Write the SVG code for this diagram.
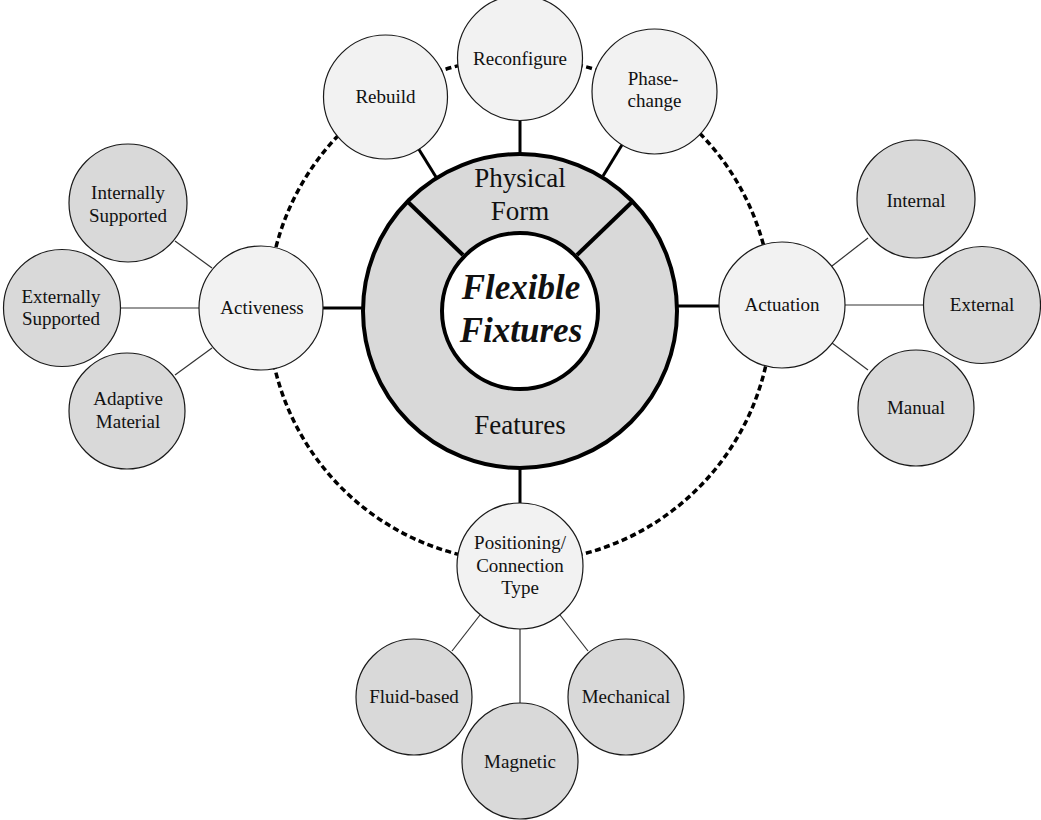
<svg xmlns="http://www.w3.org/2000/svg" width="1041" height="820" viewBox="0 0 1041 820">
<style>
  .lbl { font-size: 19px; }
  .big { font-size: 27px; }
  .title { font-size: 35px; font-weight: bold; font-style: italic; }
  .light { fill: #f2f2f2; stroke: #1a1a1a; stroke-width: 1.2; }
  .dark { fill: #d9d9d9; stroke: #1a1a1a; stroke-width: 1.2; }
  .thick { stroke: #000; stroke-width: 3; fill: none; }
  .thin { stroke: #333; stroke-width: 1.2; fill: none; }
  .dots { stroke: #000; stroke-width: 3.5; fill: none; stroke-dasharray: 6 3.5; }
</style>
<rect width="1041" height="820" fill="#ffffff"/>
<g id="connectors">
  <circle class="dots" cx="520" cy="310" r="252"/>
  <line class="thick" x1="436" y1="177" x2="410" y2="135"/>
  <line class="thick" x1="520" y1="156" x2="520" y2="115"/>
  <line class="thick" x1="603" y1="176" x2="628" y2="135"/>
  <line class="thick" x1="362" y1="308" x2="318" y2="308"/>
  <line class="thick" x1="678" y1="306" x2="725" y2="306"/>
  <line class="thick" x1="520" y1="465" x2="520" y2="508"/>
  <line class="thin" x1="175" y1="241" x2="212" y2="268"/>
  <line class="thin" x1="121" y1="308" x2="200" y2="308"/>
  <line class="thin" x1="175" y1="375" x2="212" y2="348"/>
  <line class="thin" x1="832" y1="266" x2="868" y2="238"/>
  <line class="thin" x1="845" y1="305" x2="923" y2="305"/>
  <line class="thin" x1="832" y1="343" x2="868" y2="370"/>
  <line class="thin" x1="480" y1="615" x2="452" y2="651"/>
  <line class="thin" x1="520" y1="629" x2="520" y2="704"/>
  <line class="thin" x1="560" y1="615" x2="588" y2="651"/>
</g>
<g font-family="Liberation Serif, serif" fill="#111" text-anchor="middle">
<g id="core">
  <circle cx="520" cy="311" r="157" fill="#d9d9d9" stroke="#000" stroke-width="4"/>
  <line class="thick" x1="463" y1="255" x2="408" y2="202" style="stroke-width:4"/>
  <line class="thick" x1="577" y1="255" x2="632" y2="202" style="stroke-width:4"/>
  <text class="big" x="520" y="187">Physical</text>
  <text class="big" x="520" y="220">Form</text>
  <text class="big" x="520" y="434">Features</text>
</g>
<g id="center">
  <circle cx="520" cy="311" r="78" fill="#ffffff" stroke="#000" stroke-width="4"/>
  <text class="title" x="521" y="299">Flexible</text>
  <text class="title" x="521" y="342">Fixtures</text>
</g>
<g id="rebuild">
  <circle class="light" cx="385.5" cy="97" r="62"/>
  <text class="lbl" x="385.5" y="103">Rebuild</text>
</g>
<g id="reconfigure">
  <circle class="light" cx="520" cy="58" r="62.5"/>
  <text class="lbl" x="520" y="65">Reconfigure</text>
</g>
<g id="phase-change">
  <circle class="light" cx="654.5" cy="91.5" r="62.5"/>
  <text class="lbl" x="653" y="85">Phase-</text>
  <text class="lbl" x="654.5" y="107">change</text>
</g>
<g id="activeness">
  <circle class="light" cx="261" cy="308" r="62"/>
  <text class="lbl" x="262" y="314">Activeness</text>
</g>
<g id="actuation">
  <circle class="light" cx="782" cy="305" r="63"/>
  <text class="lbl" x="782" y="311">Actuation</text>
</g>
<g id="positioning">
  <circle class="light" cx="520" cy="566" r="63"/>
  <text class="lbl" x="520" y="549">Positioning/</text>
  <text class="lbl" x="520" y="572">Connection</text>
  <text class="lbl" x="520" y="594">Type</text>
</g>
<g id="internally-supported">
  <circle class="dark" cx="128" cy="203" r="59"/>
  <text class="lbl" x="128" y="199">Internally</text>
  <text class="lbl" x="128" y="222">Supported</text>
</g>
<g id="externally-supported">
  <circle class="dark" cx="62" cy="308" r="58.5"/>
  <text class="lbl" x="61" y="303">Externally</text>
  <text class="lbl" x="61" y="325">Supported</text>
</g>
<g id="adaptive-material">
  <circle class="dark" cx="127" cy="411" r="58"/>
  <text class="lbl" x="128" y="405">Adaptive</text>
  <text class="lbl" x="128" y="428">Material</text>
</g>
<g id="internal">
  <circle class="dark" cx="916" cy="199" r="59"/>
  <text class="lbl" x="916" y="207">Internal</text>
</g>
<g id="external">
  <circle class="dark" cx="982" cy="305" r="58.5"/>
  <text class="lbl" x="982" y="311">External</text>
</g>
<g id="manual">
  <circle class="dark" cx="916" cy="408" r="58"/>
  <text class="lbl" x="916" y="414">Manual</text>
</g>
<g id="fluid-based">
  <circle class="dark" cx="414" cy="697" r="58"/>
  <text class="lbl" x="414" y="703">Fluid-based</text>
</g>
<g id="magnetic">
  <circle class="dark" cx="520" cy="761" r="58"/>
  <text class="lbl" x="520" y="768">Magnetic</text>
</g>
<g id="mechanical">
  <circle class="dark" cx="626" cy="697" r="58"/>
  <text class="lbl" x="626" y="703">Mechanical</text>
</g>
</g>
</svg>
